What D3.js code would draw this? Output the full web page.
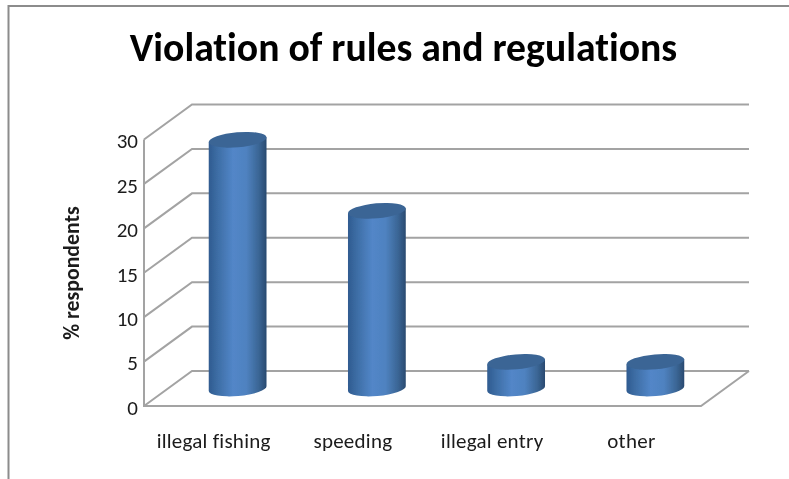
<!DOCTYPE html>
<html><head><meta charset="utf-8">
<script src="https://cdn.jsdelivr.net/npm/d3@7"></script>
<style>html,body{margin:0;padding:0;background:#fff}svg{display:block}text{font-family:Carlito,Lato,"Open Sans",sans-serif;fill:#1a1a1a;font-variant-ligatures:none}</style>
</head><body><svg id="c" width="789" height="479"></svg>
<script>
const categories = ["illegal fishing","speeding","illegal entry","other"];
const percentValues = [28,20,3,3];
const yTicks = [0,5,10,15,20,25,30];
const chartTitle = "Violation of rules and regulations";
const yAxisTitle = "% respondents";

const svg = d3.select("#c");
const depth = {dx:48, dy:-35};
const x = d3.scaleBand().domain(categories).range([144,701]);
const y = d3.scaleLinear().domain([0,30]).range([406,139.5]);
const gridColor = "#a3a3a3";

const defs = svg.append("defs");
const grad = defs.append("linearGradient").attr("id","cyl").attr("x1",0).attr("x2",1).attr("y1",0).attr("y2",0);
[[0,"#2f5b90"],[0.14,"#3c6ca3"],[0.42,"#5286c8"],[0.65,"#4f82c0"],[0.87,"#3a6594"],[1,"#2a4a70"]]
  .forEach(([o,c])=>grad.append("stop").attr("offset",o).attr("stop-color",c));
defs.append("filter").attr("id","soft").append("feGaussianBlur").attr("stdDeviation",0.45);

const root = svg.append("g").attr("filter","url(#soft)");

// image frame
root.append("path").attr("d","M8.5,479V6H789").attr("fill","none").attr("stroke","#8c8c8c").attr("stroke-width",2);

// walls and floor
const walls = root.append("g").attr("fill","none").attr("stroke",gridColor).attr("stroke-width",2);
walls.selectAll(".grid").data(yTicks).join("path").attr("class","grid")
  .attr("d",d=>`M${x.range()[0]},${y(d)}L${x.range()[0]+depth.dx},${y(d)+depth.dy}H${x.range()[1]+depth.dx}`);
walls.append("path").attr("d",`M${x.range()[0]},${y(30)}V${y(0)}H${x.range()[1]}L${x.range()[1]+depth.dx},${y(0)+depth.dy}`);

// cylinders
const tilt = -5, ry = 7.5;
const rad = tilt*Math.PI/180;
const bars = root.append("g").selectAll("g").data(categories.map((c,i)=>({c,v:percentValues[i]}))).join("g");
const rx = 29;
const cx = d=>x(d.c)+x.bandwidth()/2+depth.dx/2;
const base = y(0)+depth.dy/2;
const top_ = d=>y(d.v)+depth.dy/2;
const ex = rx*Math.cos(rad), ey = rx*Math.sin(rad);
bars.append("path").attr("fill","url(#cyl)")
  .attr("d",d=>`M${cx(d)-ex},${top_(d)-ey}L${cx(d)-ex},${base-ey}A${rx},${ry} ${tilt} 0 0 ${cx(d)+ex},${base+ey}L${cx(d)+ex},${top_(d)+ey}Z`);
bars.append("ellipse").attr("fill","#3b6595")
  .attr("rx",rx).attr("ry",ry)
  .attr("transform",d=>`translate(${cx(d)},${top_(d)}) rotate(${tilt})`);

// axes
const yAxis = root.append("g").attr("transform","translate(144,0)").call(d3.axisLeft(y).tickValues(yTicks).tickSize(0).tickPadding(6));
yAxis.select(".domain").remove();
yAxis.selectAll("text").style("font-size","21px").attr("dy","0.4em");
const xAxis = root.append("g").attr("transform","translate(0,405)").call(d3.axisBottom(x).tickSize(0).tickPadding(28));
xAxis.select(".domain").remove();
xAxis.selectAll("text").style("font-size","21px").style("letter-spacing","0.25px");

// titles
root.append("text").attr("x",403.5).attr("y",61).attr("text-anchor","middle").style("font-size","39.7px").style("font-weight",700).style("fill","#000").text(chartTitle);
root.append("text").attr("transform","translate(78.5,273) rotate(-90)").attr("text-anchor","middle").style("font-size","21.8px").style("font-weight",700).text(yAxisTitle);
</script></body></html>
